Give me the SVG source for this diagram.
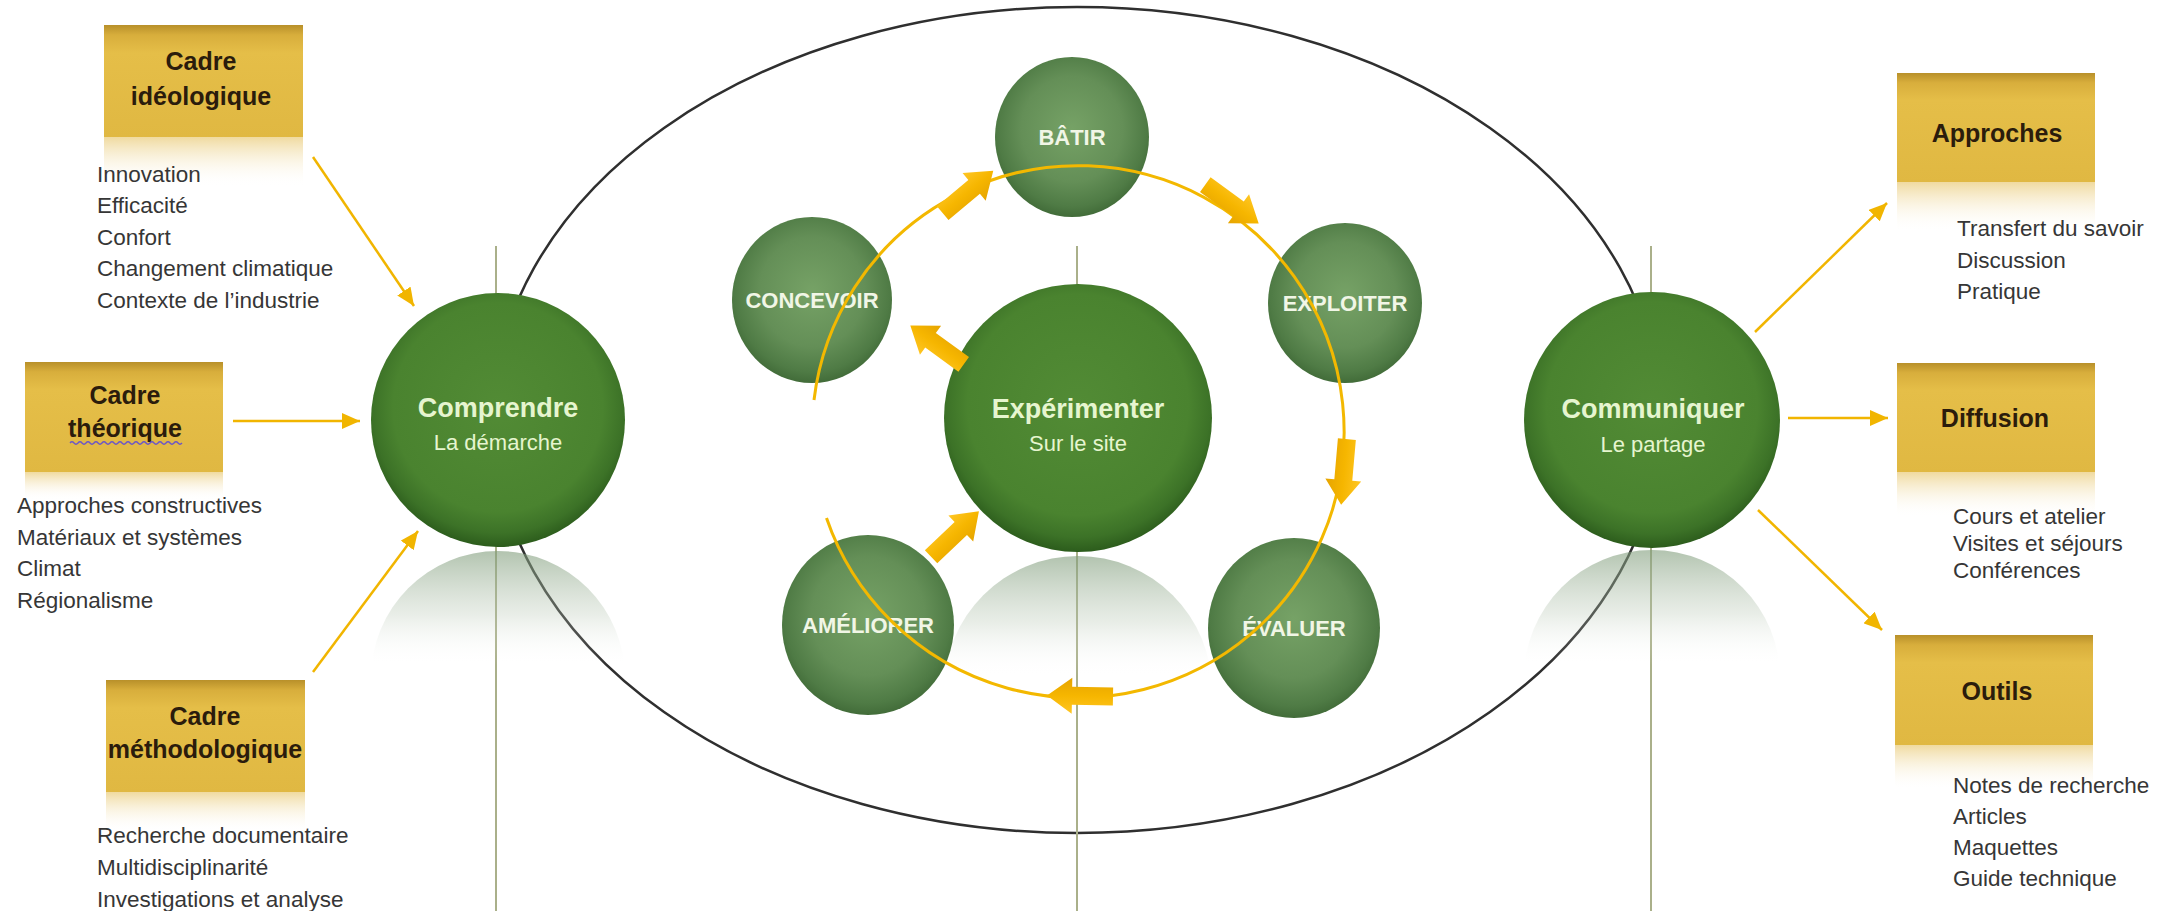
<svg xmlns="http://www.w3.org/2000/svg" xmlns:xlink="http://www.w3.org/1999/xlink" width="2171" height="911" viewBox="0 0 2171 911">
<defs>
<style>
.box{fill:url(#gold);}
.boxrefl{fill:url(#goldRefl);}
.ttl{font-family:"Liberation Sans",Arial,sans-serif;font-weight:bold;font-size:25px;fill:#2b1c0c;text-anchor:middle;}
.lst{font-family:"Liberation Sans",Arial,sans-serif;font-size:22.5px;fill:#363636;}
.big{font-family:"Liberation Sans",Arial,sans-serif;font-weight:bold;font-size:27px;fill:#e6f5cf;text-anchor:middle;}
.sub{font-family:"Liberation Sans",Arial,sans-serif;font-size:22px;fill:#e6f5cf;text-anchor:middle;}
.sm{font-family:"Liberation Sans",Arial,sans-serif;font-weight:bold;font-size:22px;fill:#f1f6e6;text-anchor:middle;}
.conn{stroke:#f1b500;stroke-width:2.5;fill:none;marker-end:url(#ah);}
.vline{stroke:#aab08a;stroke-width:2;}
.blk{fill:url(#blkGrad);}
</style>
<linearGradient id="gold" x1="0" y1="0" x2="0" y2="1">
<stop offset="0" stop-color="#b8902a"/>
<stop offset="0.09" stop-color="#d8ae3c"/>
<stop offset="0.25" stop-color="#e5be48"/>
<stop offset="1" stop-color="#e0b842"/>
</linearGradient>
<linearGradient id="goldRefl" x1="0" y1="0" x2="0" y2="1">
<stop offset="0" stop-color="#efd89a" stop-opacity="0.95"/>
<stop offset="1" stop-color="#ffffff" stop-opacity="0"/>
</linearGradient>
<radialGradient id="bigGreen" cx="50%" cy="45%" r="55%">
<stop offset="0" stop-color="#528b35"/>
<stop offset="0.75" stop-color="#4a832f"/>
<stop offset="0.9" stop-color="#3c7227"/>
<stop offset="1" stop-color="#2c5c1c"/>
</radialGradient>
<radialGradient id="smGreen" cx="50%" cy="45%" r="55%">
<stop offset="0" stop-color="#76a266"/>
<stop offset="0.6" stop-color="#648f57"/>
<stop offset="0.88" stop-color="#4f7b45"/>
<stop offset="1" stop-color="#426c39"/>
</radialGradient>
<linearGradient id="refl" x1="0" y1="0" x2="0" y2="1">
<stop offset="0" stop-color="#7f9c7a" stop-opacity="0.6"/>
<stop offset="0.25" stop-color="#b4c4b0" stop-opacity="0.3"/>
<stop offset="0.45" stop-color="#ffffff" stop-opacity="0"/>
</linearGradient>
<linearGradient id="blkGrad" x1="0" y1="0" x2="0" y2="1">
<stop offset="0" stop-color="#ffc624"/>
<stop offset="0.5" stop-color="#f6b600"/>
<stop offset="1" stop-color="#e6a400"/>
</linearGradient>
<marker id="ah" viewBox="0 0 18 16" refX="18" refY="8" markerWidth="18" markerHeight="16" markerUnits="userSpaceOnUse" orient="auto">
<path d="M0,0 L18,8 L0,16 Z" fill="#f1b500"/>
</marker>
<path id="blkShape" d="M-33,-9 L8,-9 L8,-18 L33,0 L8,18 L8,9 L-33,9 Z"/>
</defs>
<rect width="2171" height="911" fill="#ffffff"/>

<!-- big ellipse and verticals -->
<ellipse cx="1077" cy="420" rx="584" ry="413" fill="none" stroke="#2f2f2f" stroke-width="2.5"/>
<line class="vline" x1="496" y1="246" x2="496" y2="911" stroke="#a9aaa0"/>
<line class="vline" x1="1077" y1="246" x2="1077" y2="911" stroke="#b4ba6e"/>
<line class="vline" x1="1651" y1="246" x2="1651" y2="911" stroke="#9fb064"/>

<!-- reflections -->
<circle cx="498" cy="678" r="127" fill="url(#refl)"/>
<circle cx="1078" cy="690" r="134" fill="url(#refl)"/>
<circle cx="1652" cy="678" r="128" fill="url(#refl)"/>

<!-- left boxes -->
<g id="cadre-ideologique">
<rect class="box" x="104" y="25" width="199" height="112"/>
<rect class="boxrefl" x="104" y="137" width="199" height="50"/>
<text class="ttl" x="201" y="70">Cadre</text>
<text class="ttl" x="201" y="105">idéologique</text>
<text class="lst" x="97" y="182">Innovation</text>
<text class="lst" x="97" y="213">Efficacité</text>
<text class="lst" x="97" y="245">Confort</text>
<text class="lst" x="97" y="276">Changement climatique</text>
<text class="lst" x="97" y="308">Contexte de l’industrie</text>
</g>
<g id="cadre-theorique">
<rect class="box" x="25" y="362" width="198" height="110"/>
<rect class="boxrefl" x="25" y="472" width="198" height="28"/>
<text class="ttl" x="125" y="404">Cadre</text>
<text class="ttl" x="125" y="437">théorique</text>
<path d="M70 443 q2 -2.5 4 0 t4 0 t4 0 t4 0 t4 0 t4 0 t4 0 t4 0 t4 0 t4 0 t4 0 t4 0 t4 0 t4 0 t4 0 t4 0 t4 0 t4 0 t4 0 t4 0 t4 0 t4 0 t4 0 t4 0 t4 0 t4 0 t4 0 t4 0" fill="none" stroke="#6a55c8" stroke-width="1.3"/>
<text class="lst" x="17" y="513">Approches constructives</text>
<text class="lst" x="17" y="545">Matériaux et systèmes</text>
<text class="lst" x="17" y="576">Climat</text>
<text class="lst" x="17" y="608">Régionalisme</text>
</g>
<g id="cadre-methodologique">
<rect class="box" x="106" y="680" width="199" height="112"/>
<rect class="boxrefl" x="106" y="792" width="199" height="40"/>
<text class="ttl" x="205" y="725">Cadre</text>
<text class="ttl" x="205" y="758">méthodologique</text>
<text class="lst" x="97" y="843">Recherche documentaire</text>
<text class="lst" x="97" y="875">Multidisciplinarité</text>
<text class="lst" x="97" y="907">Investigations et analyse</text>
</g>

<!-- right boxes -->
<g id="approches">
<rect class="box" x="1897" y="73" width="198" height="109"/>
<rect class="boxrefl" x="1897" y="182" width="198" height="50"/>
<text class="ttl" x="1997" y="142">Approches</text>
<text class="lst" x="1957" y="236">Transfert du savoir</text>
<text class="lst" x="1957" y="268">Discussion</text>
<text class="lst" x="1957" y="299">Pratique</text>
</g>
<g id="diffusion">
<rect class="box" x="1897" y="363" width="198" height="109"/>
<rect class="boxrefl" x="1897" y="472" width="198" height="45"/>
<text class="ttl" x="1995" y="427">Diffusion</text>
<text class="lst" x="1953" y="524">Cours et atelier</text>
<text class="lst" x="1953" y="551">Visites et séjours</text>
<text class="lst" x="1953" y="578">Conférences</text>
</g>
<g id="outils">
<rect class="box" x="1895" y="635" width="198" height="110"/>
<rect class="boxrefl" x="1895" y="745" width="198" height="45"/>
<text class="ttl" x="1997" y="700">Outils</text>
<text class="lst" x="1953" y="793">Notes de recherche</text>
<text class="lst" x="1953" y="824">Articles</text>
<text class="lst" x="1953" y="855">Maquettes</text>
<text class="lst" x="1953" y="886">Guide technique</text>
</g>

<!-- big circles -->
<g id="comprendre">
<circle cx="498" cy="420" r="127" fill="url(#bigGreen)"/>
<text class="big" x="498" y="417">Comprendre</text>
<text class="sub" x="498" y="450">La démarche</text>
</g>
<g id="experimenter">
<circle cx="1078" cy="418" r="134" fill="url(#bigGreen)"/>
<text class="big" x="1078" y="418">Expérimenter</text>
<text class="sub" x="1078" y="451">Sur le site</text>
</g>
<g id="communiquer">
<circle cx="1652" cy="420" r="128" fill="url(#bigGreen)"/>
<text class="big" x="1653" y="418">Communiquer</text>
<text class="sub" x="1653" y="452">Le partage</text>
</g>

<!-- small circles -->
<g id="batir">
<ellipse cx="1072" cy="137" rx="77" ry="80" fill="url(#smGreen)"/>
<text class="sm" x="1072" y="145">BÂTIR</text>
</g>
<g id="concevoir">
<ellipse cx="812" cy="300" rx="80" ry="83" fill="url(#smGreen)"/>
<text class="sm" x="812" y="308">CONCEVOIR</text>
</g>
<g id="exploiter">
<ellipse cx="1345" cy="303" rx="77" ry="80" fill="url(#smGreen)"/>
<text class="sm" x="1345" y="311">EXPLOITER</text>
</g>
<g id="ameliorer">
<ellipse cx="868" cy="625" rx="86" ry="90" fill="url(#smGreen)"/>
<text class="sm" x="868" y="633">AMÉLIORER</text>
</g>
<g id="evaluer">
<ellipse cx="1294" cy="628" rx="86" ry="90" fill="url(#smGreen)"/>
<text class="sm" x="1294" y="636">ÉVALUER</text>
</g>

<!-- connectors -->
<g id="connectors">
<path class="conn" d="M313,157 L414,306"/>
<path class="conn" d="M233,421 L360,421"/>
<path class="conn" d="M313,672 L418,531"/>
<path class="conn" d="M1755,332 L1887,203"/>
<path class="conn" d="M1788,418 L1888,418"/>
<path class="conn" d="M1758,510 L1882,630"/>
<path d="M814,400 A266 266 0 1 1 826.5,518" fill="none" stroke="#f3b800" stroke-width="3"/>
<use href="#blkShape" class="blk" transform="translate(968,192) rotate(-40)"/>
<use href="#blkShape" class="blk" transform="translate(1232,204) rotate(36)"/>
<use href="#blkShape" class="blk" transform="translate(1344,472) rotate(95)"/>
<use href="#blkShape" class="blk" transform="translate(1080,696) rotate(181)"/>
<use href="#blkShape" class="blk" transform="translate(955,534) rotate(-43.5)"/>
<use href="#blkShape" class="blk" transform="translate(937,345) rotate(216)"/>
</g>
</svg>
